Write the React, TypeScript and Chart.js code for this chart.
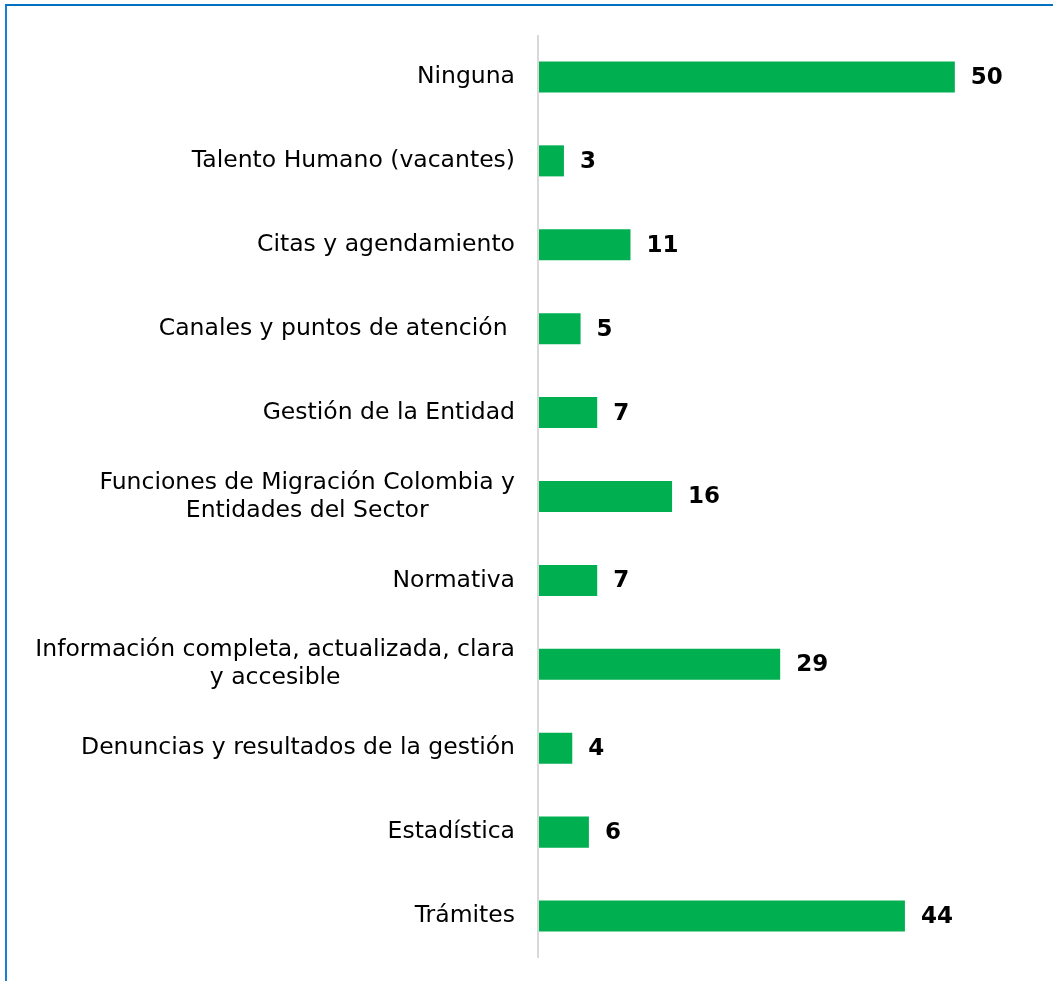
import React, { useEffect, useRef } from "react";
import { Chart, registerables } from "chart.js";

Chart.register(...registerables);

const categories: string[][] = [
  ["Ninguna"],
  ["Talento Humano (vacantes)"],
  ["Citas y agendamiento"],
  ["Canales y puntos de atención "],
  ["Gestión de la Entidad"],
  ["Funciones de Migración Colombia y", "Entidades del Sector"],
  ["Normativa"],
  ["Información completa, actualizada, clara", "y accesible"],
  ["Denuncias y resultados de la gestión"],
  ["Estadística"],
  ["Trámites"],
];

const values: number[] = [50, 3, 11, 5, 7, 16, 7, 29, 4, 6, 44];

const FONT = "'DejaVu Sans', Verdana, sans-serif";

const overlayPlugin = {
  id: "overlay",
  afterDatasetsDraw(chart: any) {
    const ctx = chart.ctx as CanvasRenderingContext2D;
    const area = chart.chartArea;
    const yScale = chart.scales.y;
    const meta = chart.getDatasetMeta(0);
    ctx.save();
    // axis line
    ctx.strokeStyle = "#D9D9D9";
    ctx.lineWidth = 2;
    ctx.beginPath();
    ctx.moveTo(area.left - 1, area.top);
    ctx.lineTo(area.left - 1, area.bottom);
    ctx.stroke();

    // category labels
    ctx.fillStyle = "#000000";
    ctx.font = `23.5px ${FONT}`;
    ctx.textBaseline = "middle";
    ctx.textAlign = "center";
    const lineH = 28;
    const rightEdge = area.left - 24;
    categories.forEach((lines, i) => {
      const yc = yScale.getPixelForValue(i);
      const w = Math.max(...lines.map((l) => ctx.measureText(l).width));
      const cx = rightEdge - w / 2;
      const y0 = yc - ((lines.length - 1) * lineH) / 2;
      lines.forEach((l, j) => {
        ctx.fillText(l, cx, y0 + j * lineH);
      });
    });

    // value labels
    ctx.font = `bold 23px ${FONT}`;
    ctx.textAlign = "left";
    meta.data.forEach((bar: any, i: number) => {
      ctx.fillText(String(values[i]), bar.x + 16, bar.y + 1);
    });
    ctx.restore();
  },
};

export default function App() {
  const canvasRef = useRef<HTMLCanvasElement | null>(null);

  useEffect(() => {
    if (!canvasRef.current) return;
    const chart = new Chart(canvasRef.current, {
      type: "bar",
      data: {
        labels: categories.map((c) => c.join(" ")),
        datasets: [
          {
            data: values,
            backgroundColor: "#00B050",
            borderWidth: 0,
            barPercentage: 0.37,
            categoryPercentage: 1,
          },
        ],
      },
      options: {
        indexAxis: "y",
        responsive: false,
        maintainAspectRatio: false,
        animation: false,
        layout: { padding: { left: 539, top: 35, bottom: 23, right: 15 } },
        plugins: { legend: { display: false }, tooltip: { enabled: false } },
        scales: {
          x: { display: false, min: 0, max: 60 },
          y: { display: false },
        },
      },
      plugins: [overlayPlugin],
    });
    return () => chart.destroy();
  }, []);

  return (
    <div
      style={{
        position: "absolute",
        left: 0,
        top: 0,
        width: 1053,
        height: 981,
        background: "#ffffff",
        overflow: "hidden",
      }}
    >
      <div
        style={{
          position: "absolute",
          left: 5,
          top: 4,
          width: 1200,
          height: 1200,
          borderTop: "2px solid #0070C0",
          borderLeft: "2px solid #1A7FD0",
          boxSizing: "border-box",
        }}
      />
      <canvas
        ref={canvasRef}
        width={1053}
        height={981}
        style={{ position: "absolute", left: 0, top: 0, width: 1053, height: 981 }}
      />
    </div>
  );
}
